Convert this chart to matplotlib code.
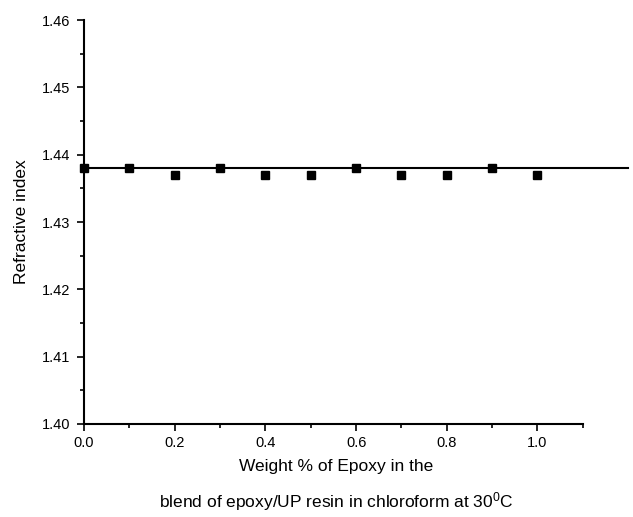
import numpy as np
from matplotlib import pyplot as plt
from matplotlib.ticker import MultipleLocator

plt.rcParams['font.family'] = ['Liberation Sans', 'DejaVu Sans']
plt.rcParams['mathtext.fontset'] = 'custom'
plt.rcParams['mathtext.rm'] = 'Liberation Sans'
plt.rcParams['mathtext.it'] = 'Liberation Sans'

# weight fraction of epoxy and measured refractive index
weight_pct = [0.0, 0.1, 0.2, 0.3, 0.4, 0.5, 0.6, 0.7, 0.8, 0.9, 1.0]
refr_index = [1.438, 1.438, 1.437, 1.438, 1.437, 1.437, 1.438, 1.437, 1.437, 1.438, 1.437]
fit_level = 1.438
fit_x = [0.0, 1.2]

fig = plt.figure(figsize=(6.33, 5.17), dpi=100)
ax = fig.add_axes([0.1327, 0.180, 0.788, 0.781])

ax.plot(fit_x, [fit_level, fit_level], color='black', lw=1.5, clip_on=False, zorder=2)
ax.plot(weight_pct, refr_index, 's', color='black', ms=6, clip_on=False, zorder=3)

ax.set_xlim(0, 1.1)
ax.set_ylim(1.40, 1.46)
ax.xaxis.set_major_locator(MultipleLocator(0.2))
ax.xaxis.set_minor_locator(MultipleLocator(0.1))
ax.yaxis.set_major_locator(MultipleLocator(0.01))
ax.yaxis.set_minor_locator(MultipleLocator(0.005))
ax.xaxis.set_major_formatter(plt.FormatStrFormatter('%.1f'))
ax.yaxis.set_major_formatter(plt.FormatStrFormatter('%.2f'))

ax.spines['top'].set_visible(False)
ax.spines['right'].set_visible(False)
ax.spines['left'].set_linewidth(1.5)
ax.spines['bottom'].set_linewidth(1.5)
ax.tick_params(which='major', direction='out', length=5, width=1.2, labelsize=10.5)
ax.tick_params(axis='y', which='major', pad=5)
ax.tick_params(axis='x', which='major', pad=4)
ax.tick_params(which='minor', direction='out', length=3, width=1.2)

ax.set_ylabel('Refractive index', fontsize=12.5, labelpad=9)
fig.text(0.531, 0.097, 'Weight % of Epoxy in the', ha='center', va='center', fontsize=12.5)
fig.text(0.531, 0.029, 'blend of epoxy/UP resin in chloroform at 30$^{0}$C',
         ha='center', va='center', fontsize=12.5)

fig.savefig('out.png', dpi=100)
